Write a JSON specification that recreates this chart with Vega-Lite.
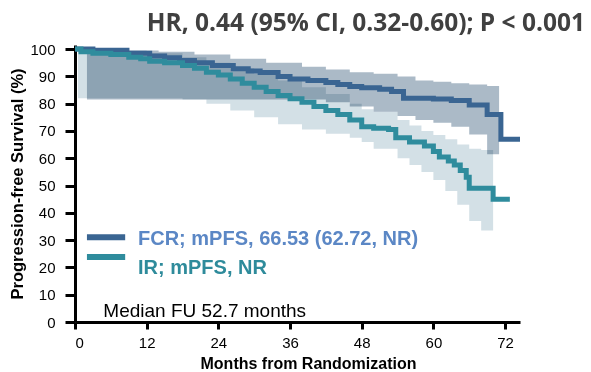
{
  "$schema": "https://vega.github.io/schema/vega-lite/v6.json",
  "width": 445,
  "height": 277,
  "autosize": {"type": "none"},
  "padding": {"left": 75, "top": 45, "right": 71, "bottom": 50},
  "background": "white",
  "title": {
    "text": "HR, 0.44 (95% CI, 0.32-0.60); P < 0.001",
    "anchor": "end",
    "frame": "group",
    "dx": 65,
    "offset": 3,
    "font": "Open Sans",
    "fontSize": 24.5,
    "fontWeight": "bold",
    "color": "#404040"
  },
  "config": {
    "view": {"stroke": null},
    "font": "Liberation Sans",
    "axis": {
      "grid": false,
      "labelOverlap": false,
      "domainColor": "black",
      "domainWidth": 3,
      "tickColor": "black",
      "tickWidth": 3,
      "labelFont": "Liberation Sans",
      "labelFontSize": 15,
      "labelColor": "black",
      "titleFont": "Liberation Sans",
      "titleFontWeight": "bold",
      "titleFontSize": 16,
      "titleColor": "black"
    },
    "axisX": {"tickSize": 7, "labelPadding": 6, "titlePadding": 5},
    "axisY": {"tickSize": 10, "labelPadding": 10, "titlePadding": 4, "titleFontSize": 16.5}
  },
  "datasets": {
    "fcr": [
      {"t": 0, "s": 100}, {"t": 3, "s": 99.6}, {"t": 8.7, "s": 98.5}, {"t": 12.5, "s": 97.5},
      {"t": 15, "s": 96.8}, {"t": 17.5, "s": 95.8}, {"t": 20, "s": 95}, {"t": 23, "s": 94},
      {"t": 26.5, "s": 92.8}, {"t": 29, "s": 92}, {"t": 31, "s": 91.4}, {"t": 34, "s": 90},
      {"t": 36, "s": 89}, {"t": 39, "s": 88.5}, {"t": 42, "s": 87.8}, {"t": 44, "s": 87},
      {"t": 46, "s": 86.3}, {"t": 48, "s": 85.8}, {"t": 51, "s": 85.3}, {"t": 53, "s": 84.5},
      {"t": 55, "s": 82}, {"t": 60, "s": 81.7}, {"t": 63, "s": 81.2}, {"t": 66, "s": 79.5},
      {"t": 69, "s": 76}, {"t": 71.3, "s": 67}, {"t": 74.5, "s": 67}
    ],
    "ir": [
      {"t": 0, "s": 100}, {"t": 1, "s": 99}, {"t": 3, "s": 98.5}, {"t": 6, "s": 98},
      {"t": 9, "s": 97}, {"t": 11, "s": 96.5}, {"t": 12.5, "s": 95.5}, {"t": 15, "s": 95},
      {"t": 18, "s": 94}, {"t": 20, "s": 93}, {"t": 22, "s": 91.5}, {"t": 24, "s": 90.5},
      {"t": 26, "s": 89}, {"t": 28, "s": 87.5}, {"t": 30, "s": 86}, {"t": 32, "s": 84.5},
      {"t": 34, "s": 83}, {"t": 36, "s": 81.8}, {"t": 38, "s": 80.5}, {"t": 40, "s": 79},
      {"t": 42, "s": 77.5}, {"t": 44, "s": 76}, {"t": 46, "s": 74}, {"t": 48, "s": 71.5},
      {"t": 50, "s": 71}, {"t": 52.5, "s": 70.5}, {"t": 53.7, "s": 67.5}, {"t": 56, "s": 66},
      {"t": 58.5, "s": 64.5}, {"t": 60, "s": 62.5}, {"t": 61, "s": 60.5}, {"t": 62.5, "s": 59},
      {"t": 63.5, "s": 57.5}, {"t": 64.5, "s": 55.5}, {"t": 65.5, "s": 53}, {"t": 66, "s": 49},
      {"t": 70, "s": 45}, {"t": 72.8, "s": 45}
    ],
    "fcrci": [
      {"t": 2, "lo": 81.5, "hi": 100}, {"t": 8, "lo": 81.5, "hi": 99.5}, {"t": 14, "lo": 81.5, "hi": 99},
      {"t": 20, "lo": 81.5, "hi": 98}, {"t": 26, "lo": 81.5, "hi": 96.5}, {"t": 32, "lo": 81.5, "hi": 95},
      {"t": 38, "lo": 81.5, "hi": 93.5}, {"t": 42, "lo": 80.5, "hi": 92.5}, {"t": 46, "lo": 79, "hi": 91.5},
      {"t": 50, "lo": 77, "hi": 91}, {"t": 54, "lo": 75.5, "hi": 90}, {"t": 57, "lo": 74, "hi": 88.5},
      {"t": 60, "lo": 73, "hi": 88}, {"t": 63, "lo": 71.5, "hi": 87.5}, {"t": 66, "lo": 68.7, "hi": 87},
      {"t": 69, "lo": 61.5, "hi": 86.5}, {"t": 71, "lo": 61.5, "hi": 86.5}
    ],
    "irci": [
      {"t": 0.5, "lo": 82, "hi": 100}, {"t": 6, "lo": 82, "hi": 99.5}, {"t": 12, "lo": 82, "hi": 98.5},
      {"t": 18, "lo": 81.5, "hi": 97}, {"t": 22, "lo": 80, "hi": 95}, {"t": 26, "lo": 77.5, "hi": 93},
      {"t": 30, "lo": 75, "hi": 91}, {"t": 34, "lo": 72.5, "hi": 88.5}, {"t": 38, "lo": 70.5, "hi": 86},
      {"t": 42, "lo": 69, "hi": 83.5}, {"t": 46, "lo": 67.5, "hi": 80}, {"t": 48, "lo": 66, "hi": 78},
      {"t": 50, "lo": 63.5, "hi": 77}, {"t": 54, "lo": 60, "hi": 74}, {"t": 56, "lo": 57.5, "hi": 72},
      {"t": 58, "lo": 55, "hi": 70}, {"t": 60, "lo": 52, "hi": 68.5}, {"t": 62, "lo": 48, "hi": 67},
      {"t": 64, "lo": 43, "hi": 65}, {"t": 66, "lo": 37, "hi": 63.5}, {"t": 68, "lo": 33.5, "hi": 63},
      {"t": 70, "lo": 33.5, "hi": 63}
    ],
    "legendLines": [
      {"x1": 2, "x2": 8.4, "y": 31.1, "series": "FCR"},
      {"x1": 2, "x2": 8.4, "y": 23.8, "series": "IR"}
    ],
    "legendText": [
      {"x": 10.55, "y": 28.2, "series": "FCR", "label": "FCR; mPFS, 66.53 (62.72, NR)"},
      {"x": 10.55, "y": 17.6, "series": "IR", "label": "IR; mPFS, NR"}
    ],
    "note": [
      {"x": 4.74, "y": 1.7, "label": "Median FU 52.7 months"}
    ]
  },
  "layer": [
    {
      "data": {"name": "irci"},
      "mark": {"type": "area", "interpolate": "step-after", "color": "#d3e0e6", "opacity": 1, "blend": "multiply"},
      "encoding": {
        "x": {"field": "t", "type": "quantitative", "scale": {"domain": [0, 74.5], "nice": false}, "axis": {"values": [0, 12, 24, 36, 48, 60, 72], "titleX": 233, "labelOverlap": false}, "title": "Months from Randomization"},
        "y": {"field": "lo", "type": "quantitative", "scale": {"domain": [0, 101.5], "nice": false}, "axis": {"values": [0, 10, 20, 30, 40, 50, 60, 70, 80, 90, 100], "labelOverlap": false}, "title": "Progression-free Survival (%)"},
        "y2": {"field": "hi"}
      }
    },
    {
      "data": {"name": "fcrci"},
      "mark": {"type": "area", "interpolate": "step-after", "color": "#abbac7", "opacity": 1, "blend": "multiply"},
      "encoding": {
        "x": {"field": "t", "type": "quantitative", "axis": {"values": [0, 12, 24, 36, 48, 60, 72], "titleX": 233, "labelOverlap": false}, "title": "Months from Randomization"},
        "y": {"field": "lo", "type": "quantitative", "axis": {"values": [0, 10, 20, 30, 40, 50, 60, 70, 80, 90, 100], "labelOverlap": false}, "title": "Progression-free Survival (%)"},
        "y2": {"field": "hi"}
      }
    },
    {
      "data": {"name": "fcr"},
      "mark": {"type": "line", "interpolate": "step-after", "color": "#3a6592", "strokeWidth": 5},
      "encoding": {
        "x": {"field": "t", "type": "quantitative", "axis": {"values": [0, 12, 24, 36, 48, 60, 72], "titleX": 233, "labelOverlap": false}, "title": "Months from Randomization"},
        "y": {"field": "s", "type": "quantitative", "axis": {"values": [0, 10, 20, 30, 40, 50, 60, 70, 80, 90, 100], "labelOverlap": false}, "title": "Progression-free Survival (%)"}
      }
    },
    {
      "data": {"name": "ir"},
      "mark": {"type": "line", "interpolate": "step-after", "color": "#2f8c9d", "strokeWidth": 5},
      "encoding": {
        "x": {"field": "t", "type": "quantitative", "axis": {"values": [0, 12, 24, 36, 48, 60, 72], "titleX": 233, "labelOverlap": false}, "title": "Months from Randomization"},
        "y": {"field": "s", "type": "quantitative", "axis": {"values": [0, 10, 20, 30, 40, 50, 60, 70, 80, 90, 100], "labelOverlap": false}, "title": "Progression-free Survival (%)"}
      }
    },
    {
      "data": {"name": "legendLines"},
      "mark": {"type": "rule", "strokeWidth": 6},
      "encoding": {
        "x": {"field": "x1", "type": "quantitative", "axis": {"values": [0, 12, 24, 36, 48, 60, 72], "titleX": 233, "labelOverlap": false}, "title": "Months from Randomization"},
        "x2": {"field": "x2"},
        "y": {"field": "y", "type": "quantitative", "axis": {"values": [0, 10, 20, 30, 40, 50, 60, 70, 80, 90, 100], "labelOverlap": false}, "title": "Progression-free Survival (%)"},
        "color": {"field": "series", "type": "nominal", "scale": {"domain": ["FCR", "IR"], "range": ["#3a6592", "#2f8c9d"]}, "legend": null}
      }
    },
    {
      "data": {"name": "legendText"},
      "transform": [{"filter": "datum.series === 'FCR'"}],
      "mark": {"type": "text", "align": "left", "baseline": "alphabetic", "font": "Liberation Sans", "fontWeight": "bold", "fontSize": 20, "color": "#5b87c5"},
      "encoding": {
        "x": {"field": "x", "type": "quantitative", "axis": {"values": [0, 12, 24, 36, 48, 60, 72], "titleX": 233, "labelOverlap": false}, "title": "Months from Randomization"},
        "y": {"field": "y", "type": "quantitative", "axis": {"values": [0, 10, 20, 30, 40, 50, 60, 70, 80, 90, 100], "labelOverlap": false}, "title": "Progression-free Survival (%)"},
        "text": {"field": "label"}
      }
    },
    {
      "data": {"name": "legendText"},
      "transform": [{"filter": "datum.series === 'IR'"}],
      "mark": {"type": "text", "align": "left", "baseline": "alphabetic", "font": "Liberation Sans", "fontWeight": "bold", "fontSize": 20, "color": "#2e8b9b"},
      "encoding": {
        "x": {"field": "x", "type": "quantitative", "axis": {"values": [0, 12, 24, 36, 48, 60, 72], "titleX": 233, "labelOverlap": false}, "title": "Months from Randomization"},
        "y": {"field": "y", "type": "quantitative", "axis": {"values": [0, 10, 20, 30, 40, 50, 60, 70, 80, 90, 100], "labelOverlap": false}, "title": "Progression-free Survival (%)"},
        "text": {"field": "label"}
      }
    },
    {
      "data": {"name": "note"},
      "mark": {"type": "text", "align": "left", "baseline": "alphabetic", "font": "Liberation Sans", "fontSize": 19, "color": "black"},
      "encoding": {
        "x": {"field": "x", "type": "quantitative", "axis": {"values": [0, 12, 24, 36, 48, 60, 72], "titleX": 233, "labelOverlap": false}, "title": "Months from Randomization"},
        "y": {"field": "y", "type": "quantitative", "axis": {"values": [0, 10, 20, 30, 40, 50, 60, 70, 80, 90, 100], "labelOverlap": false}, "title": "Progression-free Survival (%)"},
        "text": {"field": "label"}
      }
    }
  ]
}
